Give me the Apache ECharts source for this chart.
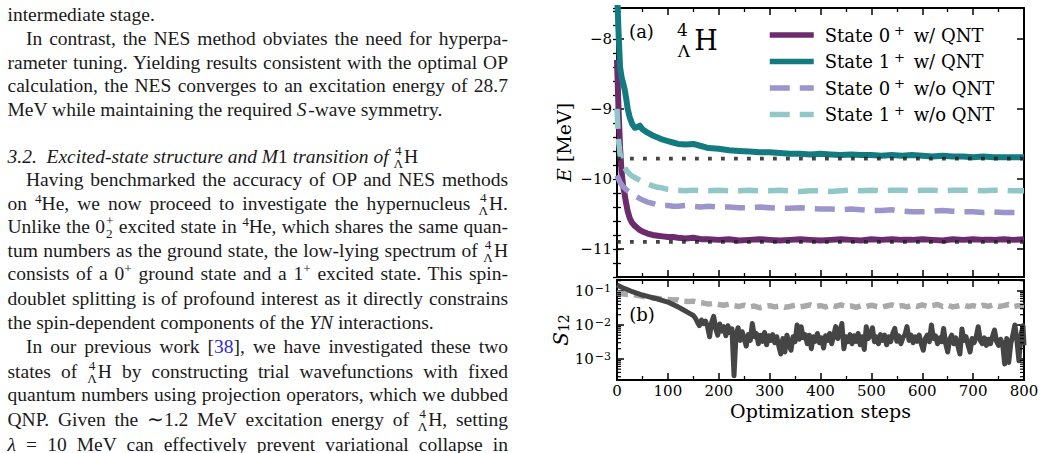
<!DOCTYPE html>
<html><head><meta charset="utf-8">
<script src="https://cdn.jsdelivr.net/npm/echarts@6/dist/echarts.min.js"></script>
<style>
html,body{margin:0;padding:0;background:#fff;width:1043px;height:453px;overflow:hidden}
#chart{position:absolute;left:0;top:0;width:1043px;height:453px}
#text{position:absolute;left:0;top:0;width:520px;height:453px;font-family:"Liberation Serif",serif;font-size:19.5px;color:#1a1a1a;z-index:2}
.ln{position:absolute;white-space:nowrap;line-height:23.6px}
.sp{font-size:0.68em;vertical-align:0.52em;line-height:0}
.nuc{display:inline-block;font-size:0.68em;line-height:13px;vertical-align:-5.5px;text-align:center;margin-right:1px}
.st{display:inline-block;font-size:0.68em;line-height:13px;vertical-align:-5px;text-align:left;margin-left:1px}
.cite{color:#2a2ad8}
.mk{display:inline-block;width:0;height:0}
</style></head>
<body>
<div id="text"></div>
<div id="chart"></div>
<script>
// ---------------- data ----------------
const topSteps = [0,3,6,9,12,15,18,21,25,30,35,40,45,50,60,70,80,90,100,110,120,135,150,165,180,
  200,220,240,260,280,300,320,340,360,380,400,420,440,460,480,500,520,540,560,580,600,620,640,660,680,700,720,740,760,780,800];
// State 0+ w/ QNT (MeV)
const e0QNT = [-8.30,-9.00,-9.55,-9.90,-10.10,-10.22,-10.35,-10.46,-10.56,-10.63,-10.67,-10.70,-10.73,-10.75,-10.78,-10.80,-10.81,-10.82,-10.83,-10.83,-10.84,-10.85,-10.84,-10.86,-10.86,
  -10.87,-10.86,-10.88,-10.87,-10.86,-10.87,-10.88,-10.87,-10.86,-10.87,-10.88,-10.87,-10.86,-10.87,-10.88,-10.86,-10.87,-10.86,-10.87,-10.87,-10.86,-10.87,-10.88,-10.86,-10.87,-10.86,-10.87,-10.87,-10.86,-10.87,-10.86];
// State 1+ w/ QNT
const e1QNT = [-7.30,-7.90,-8.40,-8.55,-8.63,-8.72,-8.85,-9.00,-9.12,-9.22,-9.27,-9.26,-9.24,-9.29,-9.34,-9.38,-9.41,-9.44,-9.46,-9.48,-9.50,-9.51,-9.50,-9.53,-9.56,
  -9.57,-9.59,-9.60,-9.61,-9.62,-9.62,-9.63,-9.64,-9.64,-9.65,-9.64,-9.65,-9.66,-9.65,-9.66,-9.66,-9.67,-9.66,-9.67,-9.66,-9.67,-9.68,-9.67,-9.68,-9.68,-9.69,-9.68,-9.69,-9.69,-9.69,-9.69];
// State 0+ w/o QNT
const e0noQNT = [-9.95,-10.00,-10.05,-10.08,-10.11,-10.13,-10.15,-10.17,-10.19,-10.22,-10.24,-10.26,-10.28,-10.30,-10.33,-10.35,-10.37,-10.38,-10.38,-10.39,-10.39,-10.38,-10.39,-10.40,-10.39,
  -10.40,-10.40,-10.41,-10.41,-10.40,-10.41,-10.42,-10.42,-10.41,-10.42,-10.43,-10.43,-10.44,-10.43,-10.44,-10.45,-10.45,-10.44,-10.46,-10.47,-10.47,-10.46,-10.45,-10.46,-10.47,-10.47,-10.48,-10.47,-10.48,-10.48,-10.48];
// State 1+ w/o QNT
const e1noQNT = [-9.00,-9.45,-9.65,-9.75,-9.80,-9.84,-9.87,-9.90,-9.93,-9.96,-9.98,-10.00,-10.02,-10.04,-10.07,-10.10,-10.12,-10.13,-10.15,-10.16,-10.16,-10.17,-10.16,-10.17,-10.17,
  -10.16,-10.17,-10.17,-10.16,-10.17,-10.17,-10.16,-10.17,-10.18,-10.17,-10.17,-10.18,-10.17,-10.16,-10.17,-10.16,-10.17,-10.16,-10.16,-10.17,-10.16,-10.16,-10.17,-10.16,-10.16,-10.16,-10.17,-10.16,-10.16,-10.17,-10.17];
// exact reference energies (dotted lines)
const exactLevels = [-10.90, -9.71];
const exactSpan = [0, 800];

// S12 overlap, w/ QNT (solid)
const s12Steps = [0,10,20,30,40,50,60,70,80,90,100,110,120,130,140,150,
  154,158,162,166,170,174,178,182,186,190,
  194,198,202,206,210,214,218,222,226,230,
  234,238,242,246,250,254,258,262,266,270,
  274,278,282,286,290,294,298,302,306,310,
  314,318,322,326,330,334,338,342,346,350,
  354,358,362,366,370,374,378,382,386,390,
  394,398,402,406,410,414,418,422,426,430,
  434,438,442,446,450,454,458,462,466,470,
  474,478,482,486,490,494,498,502,506,510,
  514,518,522,526,530,534,538,542,546,550,
  554,558,562,566,570,574,578,582,586,590,
  594,598,602,606,610,614,618,622,626,630,
  634,638,642,646,650,654,658,662,666,670,
  674,678,682,686,690,694,698,702,706,710,
  714,718,722,726,730,734,738,742,746,750,
  754,758,762,766,770,774,778,782,786,790,
  794,798,800];
const s12QNT = [0.15,0.126,0.11,0.095,0.085,0.076,0.069,0.063,0.058,0.052,0.047,0.040,0.034,0.028,0.023,0.019,
  1.6e-2,1.2e-2,9.5e-3,1.4e-2,1.1e-2,1.3e-2,8.9e-3,4.5e-3,1.2e-2,1.8e-2,
  7.9e-3,5.0e-3,1.07e-2,6.6e-3,8.9e-3,4.8e-3,9.5e-3,6.0e-3,7.6e-3,3.2e-4,
  5.0e-3,8.3e-3,3.5e-3,6.3e-3,4.0e-3,2.4e-3,5.2e-3,3.5e-3,1.1e-2,4.5e-3,
  5.6e-3,2.8e-3,5.0e-3,3.3e-3,6.0e-3,2.6e-3,4.8e-3,3.5e-3,5.2e-3,3.0e-3,
  4.5e-3,2.4e-3,1.4e-3,4.0e-3,1.6e-3,5.0e-3,2.8e-3,1.8e-3,4.5e-3,3.2e-3,
  1.0e-2,3.8e-3,8.9e-3,4.2e-3,5.2e-3,2.8e-3,5.0e-3,2.0e-3,4.5e-3,3.3e-3,
  5.6e-3,3.0e-3,4.2e-3,2.1e-3,4.8e-3,3.5e-3,5.6e-3,2.8e-3,5.0e-3,8.9e-3,
  4.0e-3,6.3e-3,1.1e-2,2.0e-3,4.5e-3,3.2e-3,5.2e-3,2.8e-3,4.8e-3,3.3e-3,
  5.6e-3,2.6e-3,4.5e-3,1.9e-3,8.9e-3,4.0e-3,5.0e-3,8.3e-3,3.2e-3,4.5e-3,
  2.8e-3,5.2e-3,3.5e-3,5.0e-3,2.6e-3,4.5e-3,3.2e-3,5.6e-3,7.9e-3,3.3e-3,
  4.8e-3,2.8e-3,4.2e-3,5.2e-3,8.9e-3,3.5e-3,5.0e-3,3.0e-3,4.5e-3,3.3e-3,
  5.0e-3,2.8e-3,1.8e-3,4.0e-3,5.0e-3,3.2e-3,1.0e-2,4.0e-3,4.8e-3,2.8e-3,
  4.2e-3,3.2e-3,7.9e-3,2.8e-3,1.6e-3,3.8e-3,5.0e-3,2.8e-3,4.2e-3,2.4e-3,
  1.4e-3,7.6e-3,3.5e-3,4.5e-3,2.6e-3,1.6e-3,4.0e-3,3.0e-3,4.5e-3,8.9e-3,
  3.5e-3,2.8e-3,4.2e-3,2.5e-3,3.8e-3,2.8e-3,4.5e-3,7.1e-3,3.3e-3,2.5e-3,
  3.8e-3,2.8e-3,7.1e-4,4.0e-3,7.9e-4,2.8e-3,5.0e-3,1.0e-2,3.5e-3,8.9e-4,
  5.0e-3,9.5e-3,2.5e-3];
// S12 overlap, w/o QNT (dashed)
const s12NoSteps = [0,10,20,30,40,50,60,70,80,90,100,110,120,130,140,150,160,170,180,190,200,210,220,230,240,250,260,270,280,290,300,
  310,320,330,340,350,360,370,380,390,400,410,420,430,440,450,460,470,480,490,500,510,520,530,540,550,560,570,580,590,600,
  610,620,630,640,650,660,670,680,690,700,710,720,730,740,750,760,770,780,790,800];
const s12NoQNT = [0.085,0.083,0.079,0.078,0.074,0.069,0.066,0.063,0.060,0.058,0.056,0.054,0.055,0.050,0.049,0.050,0.046,0.044,0.041,0.043,0.040,0.038,0.041,0.037,0.035,0.038,0.034,0.036,0.032,0.035,0.037,
  0.034,0.036,0.033,0.035,0.038,0.034,0.036,0.039,0.035,0.037,0.034,0.038,0.035,0.039,0.035,0.036,0.033,0.037,0.035,0.038,0.035,0.033,0.036,0.039,0.035,0.037,0.034,0.038,0.035,0.039,
  0.035,0.037,0.040,0.035,0.038,0.034,0.036,0.039,0.035,0.037,0.034,0.038,0.035,0.039,0.035,0.037,0.040,0.035,0.037,0.035];
// log-axis minor tick positions
const s12MinorTicks = [];
[1e-4,1e-3,1e-2,1e-1].forEach(d => { for (let k = 2; k <= 9; k++) { const v = k * d; if (v > 2.4e-4 && v < 0.21) s12MinorTicks.push(v); } });

const seriesNames = ['State 0+ w/ QNT','State 1+ w/ QNT','State 0+ w/o QNT','State 1+ w/o QNT'];

[[topSteps,e0QNT],[topSteps,e1QNT],[topSteps,e0noQNT],[topSteps,e1noQNT],[s12Steps,s12QNT],[s12NoSteps,s12NoQNT]].forEach((p,i)=>{
  if (p[0].length !== p[1].length) throw new Error('length mismatch '+i+': '+p[0].length+' vs '+p[1].length);
});
const pairs = (xs, ys) => xs.map((x, i) => [x, ys[i]]);

// ---------------- left text column ----------------
const NUC = '<span class="nuc">4<br>Λ</span>';
const SUP4 = '<span class="sp">4</span>';
const SUPP = '<span class="sp">+</span>';
const ST = '<span class="st">+<br>2</span>';
const L0 = 7.5, RIGHT = 508, IND = 26;
const lines = [
  {y:21,   j:false, h:'intermediate stage.'},
  {y:45,   j:true, x:IND, h:'In contrast, the NES method obviates the need for hyperpa-'},
  {y:68.5, j:true, h:'rameter tuning. Yielding results consistent with the optimal OP'},
  {y:92,   j:true, h:'calculation, the NES converges to an excitation energy of 28.7'},
  {y:115.5,j:false, h:'MeV while maintaining the required <i>S</i>&#8202;-wave symmetry.'},
  {y:162,  j:false, h:'<i>3.2.&ensp;Excited-state structure and M</i>1 <i>transition of</i> '+NUC+'H'},
  {y:185.5,j:true, x:IND, h:'Having benchmarked the accuracy of OP and NES methods'},
  {y:209,  j:true, h:'on '+SUP4+'He, we now proceed to investigate the hypernucleus '+NUC+'H.'},
  {y:232.5,j:true, h:'Unlike the 0'+ST+' excited state in '+SUP4+'He, which shares the same quan-'},
  {y:256,  j:true, h:'tum numbers as the ground state, the low-lying spectrum of '+NUC+'H'},
  {y:280,  j:true, h:'consists of a 0'+SUPP+' ground state and a 1'+SUPP+' excited state. This spin-'},
  {y:305,  j:true, h:'doublet splitting is of profound interest as it directly constrains'},
  {y:329,  j:false, h:'the spin-dependent components of the <i>YN</i> interactions.'},
  {y:353,  j:true, x:IND, h:'In our previous work [<span class="cite">38</span>], we have investigated these two'},
  {y:377,  j:true, h:'states of '+NUC+'H by constructing trial wavefunctions with fixed'},
  {y:401,  j:true, h:'quantum numbers using projection operators, which we dubbed'},
  {y:425,  j:true, h:'QNP. Given the ∼1.2 MeV excitation energy of '+NUC+'H, setting'},
  {y:451,  j:true, h:'<i>λ</i> = 10 MeV can effectively prevent variational collapse in'}
];
const tbox = document.getElementById('text');
lines.forEach(l => {
  const d = document.createElement('div');
  d.className = 'ln';
  d.innerHTML = l.h + '<span class="mk"></span>';
  d.style.left = (l.x || L0) + 'px';
  d.style.top = '0px';
  tbox.appendChild(d);
  l.el = d;
});
function layoutText() {
  lines.forEach(l => {
    const el = l.el;
    el.style.wordSpacing = '0px';
    el.style.top = '0px';
    const mk = el.querySelector('.mk');
    const off = mk.getBoundingClientRect().top - el.getBoundingClientRect().top;
    el.style.top = (l.y - off) + 'px';
    if (l.j) {
      const w = el.getBoundingClientRect().width;
      const target = RIGHT - (l.x || L0);
      const n = (el.textContent.match(/ /g) || []).length;
      if (n) el.style.wordSpacing = ((target - w) / n) + 'px';
    }
  });
}
layoutText();
if (document.fonts && document.fonts.ready) document.fonts.ready.then(layoutText);

// ---------------- chart ----------------
const FONT = 'DejaVu Serif';
const C = {purple:'#6b2b6d', teal:'#137b80', lav:'#9a96cc', lteal:'#91c7c7', dot:'rgba(35,35,35,0.85)', dark:'#454545', light:'#a9a9a9'};
const AXL = {show:true, onZero:false, lineStyle:{color:'#000', width:2}};
const TICK = {show:true, inside:true, length:7, lineStyle:{color:'#000', width:1.5}};
const MTICK = {show:true, inside:true, length:4, lineStyle:{color:'#000', width:1.3}};
const minus = v => (v < 0 ? '\u2212' + Math.abs(v) : String(v));

function xAx(grid, pos, labels) {
  const a = {gridIndex:grid, type:'value', position:pos, min:0, max:800, interval:100,
    axisLine:AXL, axisTick:TICK,
    minorTick:{show:true, splitNumber:2, length:4, lineStyle:{color:'#000', width:1.3}},
    splitLine:{show:false}, minorSplitLine:{show:false},
    axisLabel:{show:!!labels, margin:3, fontFamily:FONT, fontSize:15, color:'#000'}};
  if (labels) {
    a.name = 'Optimization steps'; a.nameLocation = 'middle'; a.nameGap = 21;
    a.nameTextStyle = {fontFamily:FONT, fontSize:19, color:'#000'};
  }
  return a;
}
function yMajor(pos, labels) {
  const a = {gridIndex:0, type:'value', position:pos, min:-11.4, max:-7.56, splitNumber:4,
    axisLine:AXL, axisTick:TICK, splitLine:{show:false},
    axisLabel:{show:!!labels, showMinLabel:false, showMaxLabel:false, margin:5, fontFamily:FONT, fontSize:15, color:'#000', formatter:minus}};
  if (labels) {
    a.name = '{i|E} [MeV]'; a.nameLocation = 'middle'; a.nameGap = 44; a.nameRotate = 90;
    a.nameTextStyle = {fontFamily:FONT, fontSize:19, color:'#000', rich:{i:{fontFamily:FONT, fontSize:19, fontStyle:'italic', color:'#000'}}};
  }
  return a;
}
function yMinor(pos) {
  return {gridIndex:0, type:'value', position:pos, min:-11.4, max:-7.56, interval:0.2,
    axisLine:{show:false}, axisTick:MTICK, splitLine:{show:false}, axisLabel:{show:false}};
}
function yLog(pos, labels) {
  const a = {gridIndex:1, type:'log', logBase:10, position:pos, min:2.4e-4, max:0.21,
    axisLine:AXL, axisTick:TICK, splitLine:{show:false}, minorTick:{show:false},
    axisLabel:{show:!!labels, showMinLabel:false, showMaxLabel:false, margin:6, color:'#000',
      formatter: v => '{b|10}{e|\u2212' + Math.round(-Math.log10(v)) + '}',
      rich:{b:{fontFamily:FONT, fontSize:15, color:'#000'}, e:{fontFamily:FONT, fontSize:11, color:'#000', verticalAlign:'top', padding:[0,0,0,1]}}}};
  if (labels) {
    a.name = '{i|S}{s|12}'; a.nameLocation = 'middle'; a.nameGap = 44; a.nameRotate = 90;
    a.nameTextStyle = {fontFamily:FONT, fontSize:20, color:'#000',
      rich:{i:{fontFamily:FONT, fontSize:20, fontStyle:'italic', color:'#000'}, s:{fontFamily:FONT, fontSize:14, color:'#000', verticalAlign:'bottom'}}};
  }
  return a;
}
const solid = (name, ys, color) => ({type:'line', name, xAxisIndex:0, yAxisIndex:0, data:pairs(topSteps, ys),
  symbol:'none', showSymbol:false, silent:true, z:3,
  lineStyle:{color, width:6, join:'round', cap:'butt'}, itemStyle:{color}});
const dashed = (name, ys, color) => ({type:'line', name, xAxisIndex:0, yAxisIndex:0, data:pairs(topSteps, ys),
  symbol:'none', showSymbol:false, silent:true, z:3,
  lineStyle:{color, width:5.5, join:'round', cap:'butt', type:[20, 10]}, itemStyle:{color}});

const chart = echarts.init(document.getElementById('chart'), null, {renderer:'svg'});
chart.setOption({
  animation:false,
  backgroundColor:'transparent',
  grid:[
    {left:617, width:407, top:8, height:269, outerBoundsMode:'none', containLabel:false},
    {left:617, width:407, top:280, height:100, outerBoundsMode:'none', containLabel:false}
  ],
  xAxis:[xAx(0,'bottom',false), xAx(0,'top',false), xAx(1,'bottom',true), xAx(1,'top',false)],
  yAxis:[yMajor('left',true), yMinor('left'), yMajor('right',false), yMinor('right'), yLog('left',true), yLog('right',false)],
  legend:{
    data:seriesNames, orient:'vertical', left:767, top:24, padding:0, itemGap:6.5,
    itemWidth:44, itemHeight:14, selectedMode:false,
    lineStyle:{width:5.5},
    itemStyle:{opacity:0, borderWidth:0},
    formatter: n => { const m = /^State (\d)\+ (.*)$/.exec(n); return '{f|State ' + m[1] + '}{s|+}{t| ' + m[2] + '}'; },
    textStyle:{fontFamily:FONT, fontSize:18, color:'#000',
      rich:{
        f:{fontFamily:FONT, fontSize:18, color:'#000', lineHeight:22, padding:[0,0,0,6]},
        t:{fontFamily:FONT, fontSize:18, color:'#000', lineHeight:22},
        s:{fontFamily:FONT, fontSize:13, color:'#000', verticalAlign:'top', padding:[0,3,0,4]}
      }}
  },
  graphic:[
    {type:'text', x:641.5, y:31.5, z:10, style:{text:'(a)', font:'18px "DejaVu Serif"', fill:'#000', align:'center', verticalAlign:'middle'}},
    {type:'text', x:642, y:314.5, z:10, style:{text:'(b)', font:'18px "DejaVu Serif"', fill:'#000', align:'center', verticalAlign:'middle'}},
    {type:'text', x:682.5, y:30, z:10, style:{text:'4', font:'17px "DejaVu Serif"', fill:'#000', align:'center', verticalAlign:'middle'}},
    {type:'text', x:684, y:51, z:10, style:{text:'Λ', font:'17px "DejaVu Serif"', fill:'#000', align:'center', verticalAlign:'middle'}},
    {type:'text', x:706, y:40, z:10, style:{text:'H', font:'27px "DejaVu Serif"', fill:'#000', align:'center', verticalAlign:'middle'}}
  ],
  series:[
    solid(seriesNames[0], e0QNT, C.purple),
    solid(seriesNames[1], e1QNT, C.teal),
    dashed(seriesNames[2], e0noQNT, C.lav),
    dashed(seriesNames[3], e1noQNT, C.lteal),
    ...exactLevels.map(v => ({type:'line', xAxisIndex:0, yAxisIndex:0, silent:true, z:5, symbol:'none',
      data:[[exactSpan[0], v], [exactSpan[1], v]],
      lineStyle:{color:C.dot, width:3.8, type:[3.8, 9.2], cap:'butt'}})),
    {type:'line', name:'S12 w/o QNT', xAxisIndex:2, yAxisIndex:4, data:pairs(s12NoSteps, s12NoQNT), symbol:'none', silent:true, z:3,
      lineStyle:{color:C.light, width:5.5, type:[11, 6], join:'round'}},
    {type:'line', name:'S12 w/ QNT', xAxisIndex:2, yAxisIndex:4, data:pairs(s12Steps, s12QNT), symbol:'none', silent:true, z:4,
      lineStyle:{color:C.dark, width:5, join:'round'}},
    {type:'custom', xAxisIndex:2, yAxisIndex:4, silent:true, z:6, clip:false,
      data:s12MinorTicks.map(v => [0, v]),
      renderItem:(params, api) => {
        const p = api.coord([0, api.value(1)]);
        const q = api.coord([800, api.value(1)]);
        return {type:'group', children:[
          {type:'line', shape:{x1:p[0], y1:p[1], x2:p[0] + 4, y2:p[1]}, style:{stroke:'#000', lineWidth:1.2}},
          {type:'line', shape:{x1:q[0] - 4, y1:q[1], x2:q[0], y2:q[1]}, style:{stroke:'#000', lineWidth:1.2}}
        ]};
      }}
  ]
});
</script>
</body></html>
